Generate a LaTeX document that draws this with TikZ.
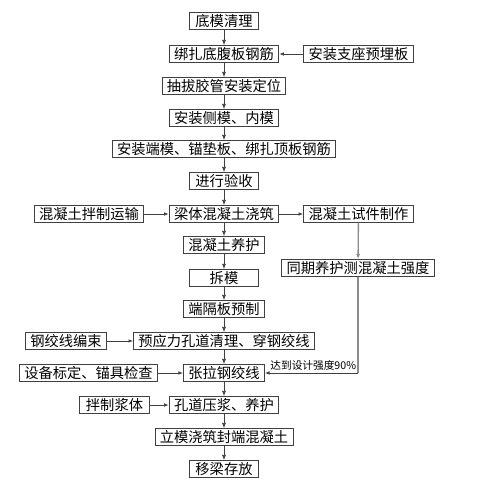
\documentclass[tikz,border=0pt]{standalone}
\usepackage{fontspec}
\setmainfont{Noto Sans CJK SC}
\usetikzlibrary{arrows.meta}

\begin{document}
\begin{tikzpicture}[
    x=0.75pt, y=-0.75pt,
    font=\fontsize{10.7pt}{11pt}\selectfont,
    stepbox/.style={
        rectangle,
        draw=black!75,
        line width=0.6pt,
        inner xsep=3.6pt,
        inner ysep=0.8pt,
        minimum width=52pt,
        minimum height=12.5pt
    },
    flow/.style={-{Latex[length=4pt,width=3pt]}, line width=0.6pt, draw=black!75},
    side/.style={-{Latex[length=3.5pt,width=2.6pt]}, line width=0.6pt, draw=black!75},
    check/.style={line width=1pt, draw=black!45}
]
\useasboundingbox (0,0) rectangle (483,490);

% =========================================================
% Main column
% =========================================================
\node[stepbox] (qingli) at (224,21) {底模清理};
\node[stepbox] (dibanjin) at (224,54) {绑扎底腹板钢筋};
\node[stepbox] (jiaoguan) at (224,86) {抽拔胶管安装定位};
\node[stepbox] (cemo) at (224,118) {安装侧模、内模};
\node[stepbox] (duanmo) at (224,149) {安装端模、锚垫板、绑扎顶板钢筋};
\node[stepbox] (yanshou) at (224,181) {进行验收};
\node[stepbox] (jiaozhu) at (224,214) {梁体混凝土浇筑};
\node[stepbox] (yanghu) at (224,245) {混凝土养护};
\node[stepbox] (chaimo) at (224,278) {拆模};
\node[stepbox] (geban) at (224,309) {端隔板预制};
\node[stepbox] (kongdao) at (224,341) {预应力孔道清理、穿钢绞线};
\node[stepbox] (zhangla) at (224,373) {张拉钢绞线};
\node[stepbox] (yajiang) at (224,405) {孔道压浆、养护};
\node[stepbox] (fengduan) at (224,437) {立模浇筑封端混凝土};
\node[stepbox] (cunfang) at (224,469) {移梁存放};

% Side steps
\node[stepbox] (zhizuo) at (358.5,54) {安装支座预埋板};
\node[stepbox] (banzhi) at (89,214) {混凝土拌制运输};
\node[stepbox] (shijian) at (358.5,214) {混凝土试件制作};
\node[stepbox] (tongqi) at (358,268) {同期养护测混凝土强度};
\node[stepbox] (bianshu) at (66,341) {钢绞线编束};
\node[stepbox] (biaoding) at (88.5,373) {设备标定、锚具检查};
\node[stepbox] (jiangti) at (114.5,405) {拌制浆体};

% =========================================================
% Connectors
% =========================================================
\draw[flow] (qingli) -- (dibanjin);
\draw[flow] (dibanjin) -- (jiaoguan);
\draw[flow] (jiaoguan) -- (cemo);
\draw[flow] (cemo) -- (duanmo);
\draw[flow] (duanmo) -- (yanshou);
\draw[flow] (yanshou) -- (jiaozhu);
\draw[flow] (jiaozhu) -- (yanghu);
\draw[flow] (yanghu) -- (chaimo);
\draw[flow] (chaimo) -- (geban);
\draw[flow] (geban) -- (kongdao);
\draw[flow] (kongdao) -- (zhangla);
\draw[flow] (zhangla) -- (yajiang);
\draw[flow] (yajiang) -- (fengduan);
\draw[flow] (fengduan) -- (cunfang);

\draw[side] (zhizuo) -- (dibanjin);
\draw[side] (banzhi) -- (jiaozhu);
\draw[side] (jiaozhu) -- (shijian);
\draw[side] (bianshu) -- (kongdao);
\draw[side] (biaoding) -- (zhangla);
\draw[side] (jiangti) -- (yajiang);

% strength check loop
\coordinate (corner) at (358,373);
\draw[check, -{Latex[length=4pt,width=3pt]}] (shijian) -- (tongqi);
\draw[check] (tongqi) -- (corner);
\draw[side] (corner) -- node[above, pos=0.48, font=\fontsize{8pt}{8pt}\selectfont, yshift=-1.5pt] {达到设计强度90\%} (zhangla);

\end{tikzpicture}
\end{document}
